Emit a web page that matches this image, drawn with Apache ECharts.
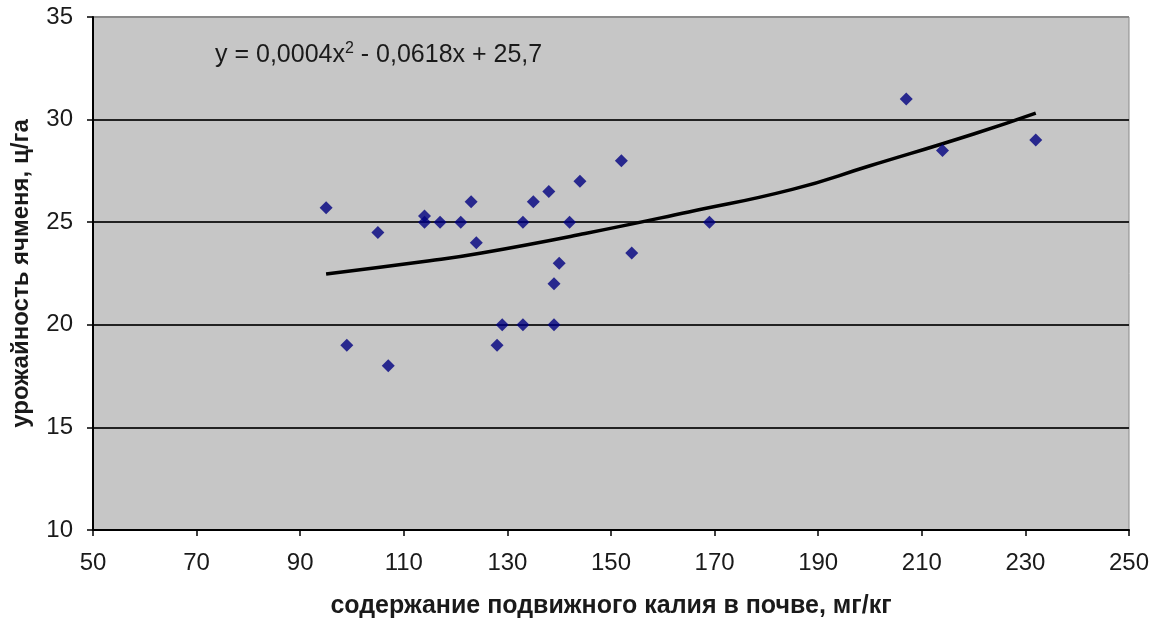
<!DOCTYPE html>
<html>
<head>
<meta charset="utf-8">
<script src="https://cdn.jsdelivr.net/npm/echarts@6/dist/echarts.min.js"></script>
<style>
html,body{margin:0;padding:0;background:#fff;}
#c{width:1153px;height:621px;}
</style>
</head>
<body>
<div id="c"></div>
<script>
// Scatter data: mobile potassium in soil (mg/kg) vs barley yield (c/ha)
var potassium = [95, 99, 105, 107, 114, 114, 117, 121, 123, 124, 128, 129, 133, 133, 135, 138, 139, 139, 140, 142, 144, 152, 154, 169, 207, 214, 232];
var yieldVals = [25.7, 19, 24.5, 18, 25.3, 25, 25, 25, 26, 24, 19, 20, 20, 25, 26, 26.5, 20, 22, 23, 25, 27, 28, 23.5, 25, 31, 28.5, 29];
// Polynomial trend line
var trendX = [95, 115, 125, 145, 165, 185, 200, 220, 232];
var trendY = [22.48, 23.12, 23.5, 24.45, 25.5, 26.6, 27.75, 29.3, 30.32];
var xTicks = [50, 70, 90, 110, 130, 150, 170, 190, 210, 230, 250];
var yTicks = [10, 15, 20, 25, 30, 35];
var equationText = 'y = 0,0004x{s|2} - 0,0618x + 25,7';
var xTitle = 'содержание подвижного калия в почве, мг/кг';
var yTitle = 'урожайность ячменя, ц/га';

var FONT = '"Liberation Sans", Arial, sans-serif';
var chart = echarts.init(document.getElementById('c'), null, {renderer: 'canvas'});
var pts = potassium.map(function (x, i) { return [x, yieldVals[i]]; });
var trend = trendX.map(function (x, i) { return [x, trendY[i]]; });

chart.setOption({
  animation: false,
  backgroundColor: '#ffffff',
  grid: {
    left: 93, right: 24, top: 17, bottom: 91,
    containLabel: false, outerBoundsMode: 'none',
    show: true, backgroundColor: '#c6c6c6', borderColor: '#8a8a8a', borderWidth: 1
  },
  xAxis: {
    type: 'value', min: xTicks[0], max: xTicks[xTicks.length - 1], interval: 20,
    axisLine: {show: true, onZero: false, lineStyle: {color: '#000', width: 2}},
    axisTick: {show: true, inside: false, length: 6, lineStyle: {color: '#000', width: 1.5}},
    axisLabel: {color: '#1a1a1a', fontFamily: FONT, fontSize: 24, margin: 21},
    splitLine: {show: false},
    name: xTitle, nameLocation: 'middle', nameGap: 64,
    nameTextStyle: {color: '#1a1a1a', fontFamily: FONT, fontSize: 25, fontWeight: 'bold'}
  },
  yAxis: {
    type: 'value', min: yTicks[0], max: yTicks[yTicks.length - 1], interval: 5,
    axisLine: {show: true, onZero: false, lineStyle: {color: '#000', width: 2}},
    axisTick: {show: true, inside: false, length: 6, lineStyle: {color: '#000', width: 1.5}},
    axisLabel: {color: '#1a1a1a', fontFamily: FONT, fontSize: 24, margin: 20},
    splitLine: {show: true, lineStyle: {color: ['#222', '#222', '#222', '#222', '#222', '#8a8a8a'], width: 2}},
    name: yTitle, nameLocation: 'middle', nameGap: 60,
    nameTextStyle: {color: '#1a1a1a', fontFamily: FONT, fontSize: 24, fontWeight: 'bold'}
  },
  series: [
    {
      type: 'line', data: trend, smooth: true, showSymbol: false, symbol: 'none',
      lineStyle: {color: '#000', width: 3.5}, z: 3
    },
    {
      type: 'scatter', data: pts, symbol: 'diamond', symbolSize: 13,
      itemStyle: {color: '#000080'}, z: 4
    }
  ],
  graphic: [{
    type: 'text', left: 215, top: 41, z: 10,
    style: {
      text: equationText,
      fill: '#1a1a1a',
      font: '25px ' + FONT,
      rich: {s: {fontSize: 16, fontFamily: FONT, verticalAlign: 'top', padding: [0, 0, 13, 0], fill: '#1a1a1a'}}
    }
  }]
});
</script>
</body>
</html>
